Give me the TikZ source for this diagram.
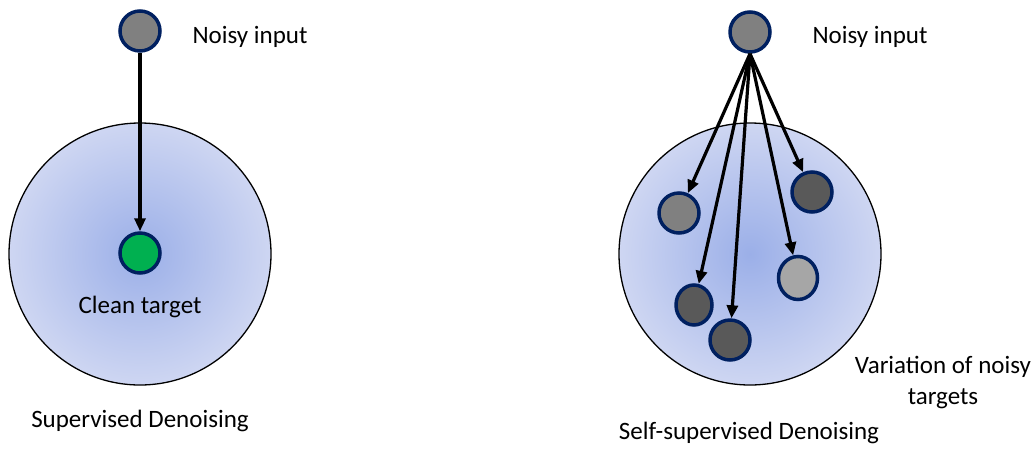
\documentclass[tikz,border=0pt]{standalone}
\usepackage{fontspec}
\setmainfont{Carlito}
\usetikzlibrary{arrows.meta,shapes.geometric}
\definecolor{navy}{RGB}{0,32,96}
\definecolor{gmid}{RGB}{128,128,128}
\definecolor{gdark}{RGB}{89,89,89}
\definecolor{glight}{RGB}{166,166,166}
\definecolor{cgreen}{RGB}{0,176,80}
\definecolor{blin}{RGB}{155,175,232}
\definecolor{blout}{RGB}{206,214,242}
\tikzset{
  dot/.style={ellipse,draw=navy,line width=3.5pt,inner sep=0pt,minimum width=#1},
  region/.style={circle,draw=black,line width=1.3pt,inner color=blin,outer color=blout,minimum size=262pt,inner sep=0pt},
  lbl/.style={font=\fontsize{25}{31}\selectfont,anchor=base,inner sep=0pt,align=center},
  arr/.style={line width=3.2pt,-{Triangle[length=13pt,width=11pt]}},
}
\begin{document}
\begin{tikzpicture}[x=1pt,y=-1pt]
\useasboundingbox (0,0) rectangle (1033,448);
% left
\node[region] (lreg) at (140,254) {};
\node[dot=40pt,minimum height=40pt,fill=gmid] (lin) at (140,31) {};
\node[dot=40pt,minimum height=40pt,fill=cgreen] (clean) at (140,253) {};
\draw[arr] (lin) -- (clean);
\node[lbl] (lnoisy) at (250,43) {Noisy input};
\node[lbl] (lclean) at (140,313) {Clean target};
\node[lbl] (lsup) at (140,427) {Supervised Denoising};
% right
\node[region] (rreg) at (750,254) {};
\node[dot=40pt,minimum height=40pt,fill=gmid] (rin) at (750,32) {};
\node[dot=40pt,minimum height=40pt,fill=gmid] (t1) at (679,213) {};
\node[dot=40pt,minimum height=40pt,fill=gdark] (t2) at (812,192) {};
\node[dot=39pt,minimum height=43pt,fill=glight] (t3) at (798,278) {};
\node[dot=36pt,minimum height=40pt,fill=gdark] (t4) at (694,305) {};
\node[dot=40pt,minimum height=40pt,fill=gdark] (t5) at (730,340) {};
\foreach \t in {t1,t2,t3,t4,t5} \draw[arr] (rin.south) -- (\t);
\node[lbl] (rnoisy) at (870,43) {Noisy input};
\node[lbl] (rvar) at (943,404) {Variation of noisy\\targets};
\node[lbl] (rself) at (749,439) {Self-supervised Denoising};
\end{tikzpicture}
\end{document}
